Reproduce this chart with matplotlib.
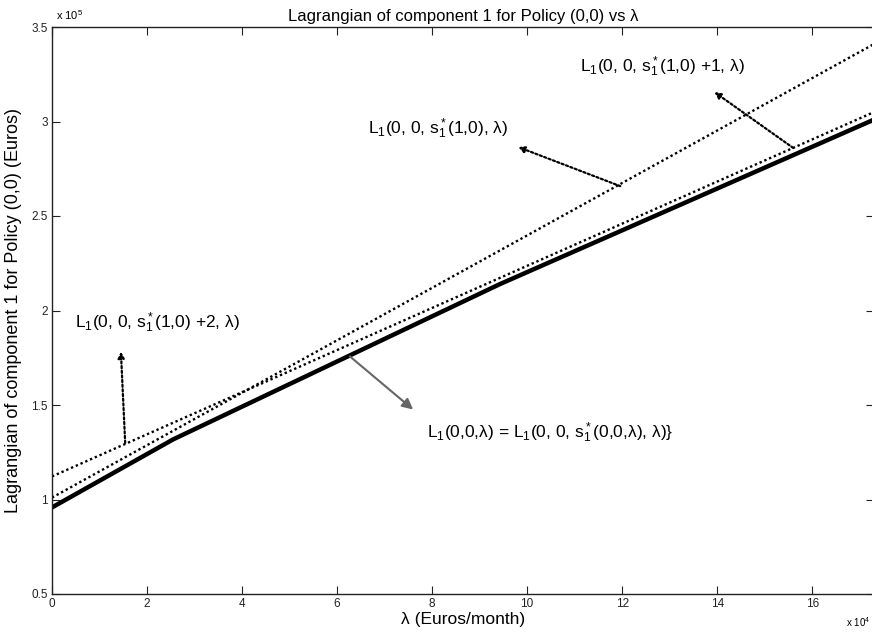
import matplotlib
matplotlib.use("Agg")
import matplotlib.pyplot as plt
from matplotlib.ticker import FixedLocator

plt.rcParams['font.family'] = ['Liberation Sans', 'DejaVu Sans']
plt.rcParams['mathtext.fontset'] = 'custom'
plt.rcParams['mathtext.rm'] = 'Liberation Sans'
plt.rcParams['mathtext.it'] = 'Liberation Sans:italic'

# data (lambda in units of 1e4 Euros/month, Lagrangian in units of 1e5 Euros)
lam_env = [0.0, 2.55, 9.43, 17.3]
L_env = [0.958, 1.318, 2.14, 3.01]

lam_s10 = [0.0, 17.3]
L_s10 = [1.01, 3.41]

lam_s10p = [0.0, 17.3]
L_s10p = [1.122, 3.05]

xticks = [0, 2, 4, 6, 8, 10, 12, 14, 16]
yticks = [0.5, 1, 1.5, 2, 2.5, 3, 3.5]

W, H = 872, 632
fig = plt.figure(figsize=(W / 100, H / 100), dpi=100)
ax = fig.add_axes([52 / W, (H - 594) / H, (874 - 52) / W, (594 - 27) / H])

ax.plot(lam_env, L_env, color='black', lw=3.2, solid_capstyle='butt')
ax.plot(lam_s10, L_s10, color='black', lw=1.7, ls=(0, (1, 1.2)))
ax.plot(lam_s10p, L_s10p, color='black', lw=1.7, ls=(0, (1, 1.2)))

ax.set_xlim(0, 17.3)
ax.set_ylim(0.5, 3.5)
ax.xaxis.set_major_locator(FixedLocator(xticks))
ax.yaxis.set_major_locator(FixedLocator(yticks))
ax.set_xticklabels([f"{t:g}" for t in xticks])
ax.set_yticklabels([f"{t:g}" for t in yticks])
ax.tick_params(direction='in', length=5.5, width=0.8, top=True, right=True,
               labelsize=8.5, colors='#222222', pad=3)
for sp in ax.spines.values():
    sp.set_linewidth(1.0)
    sp.set_color('#222222')

ax.set_xlabel('λ (Euros/month)', fontsize=12.5, labelpad=1)
ax.set_ylabel('Lagrangian of component 1 for Policy (0,0) (Euros)', fontsize=13, labelpad=7)
ax.set_title('Lagrangian of component 1 for Policy (0,0) vs λ', fontsize=12, pad=4)
fig.text(56 / W, 1 - 15 / H, r'x 10$^5$', fontsize=8, ha='left', va='center')
fig.text(870 / W, 1 - 622 / H, r'x 10$^4$', fontsize=7, ha='right', va='center')

dot_arrow = dict(arrowstyle='-|>', color='black', lw=1.6, ls=(0, (1, 1.1)),
                 mutation_scale=9, shrinkA=0, shrinkB=0)
tsz = 12.5
ax.annotate('', xy=(1.45, 1.783), xytext=(1.54, 1.30), arrowprops=dot_arrow)
ax.annotate('', xy=(9.81, 2.865), xytext=(11.96, 2.658), arrowprops=dot_arrow)
ax.annotate('', xy=(13.94, 3.156), xytext=(15.6, 2.86), arrowprops=dot_arrow)
ax.annotate('', xy=(7.6, 1.476), xytext=(6.27, 1.757),
            arrowprops=dict(arrowstyle='-|>', color='#666666', lw=1.5,
                            mutation_scale=16, shrinkA=0, shrinkB=0))

ax.text(0.48, 1.937, r'L$_1$(0, 0, s$_1^*$(1,0) +2, λ)', fontsize=tsz, va='center', ha='left')
ax.text(6.65, 2.96, r'L$_1$(0, 0, s$_1^*$(1,0), λ)', fontsize=tsz, va='center', ha='left')
ax.text(11.12, 3.29, r'L$_1$(0, 0, s$_1^*$(1,0) +1, λ)', fontsize=tsz, va='center', ha='left')
ax.text(7.89, 1.354, r'L$_1$(0,0,λ) = L$_1$(0, 0, s$_1^*$(0,0,λ), λ)}', fontsize=tsz, va='center', ha='left')

fig.savefig('out.png', dpi=100)
